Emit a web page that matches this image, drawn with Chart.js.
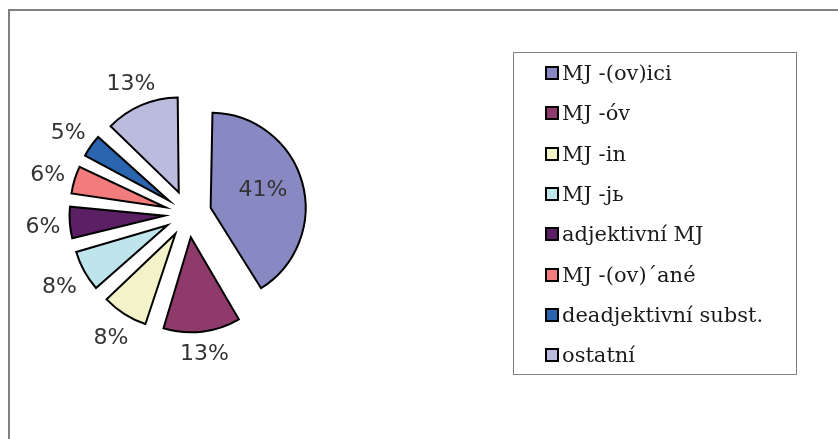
<!DOCTYPE html>
<html>
<head>
<meta charset="utf-8">
<script src="https://cdn.jsdelivr.net/npm/chart.js@4/dist/chart.umd.min.js"></script>
<style>
  html, body { margin: 0; padding: 0; background: #fff; overflow: hidden; }
  body { width: 838px; height: 439px; position: relative; }
  #frame {
    position: absolute; left: 8px; top: 9px; width: 900px; height: 500px;
    border-top: 2px solid #808080; border-left: 2px solid #808080;
  }
  #chart { position: absolute; left: 0; top: 0; }
  .legend {
    position: absolute; left: 513px; top: 52px; width: 284px; height: 323px;
    border: 1px solid #808080; box-sizing: border-box;
    font-family: 'DejaVu Serif', serif; font-size: 21px; color: #1a1a1a;
  }
  .legend-item { position: absolute; left: 31px; height: 24px; line-height: 24px; white-space: nowrap; }
  .legend-box {
    display: inline-block; width: 10px; height: 10px; border: 2px solid #000;
    vertical-align: 0px; margin-right: 3px;
  }
</style>
</head>
<body>
<div id="frame"></div>
<canvas id="chart" width="838" height="439"></canvas>
<div class="legend" id="legend"></div>
<script>
const categories = [
  'MJ -(ov)ici',
  'MJ -óv',
  'MJ -in',
  'MJ -jь',
  'adjektivní MJ',
  'MJ -(ov)´ané',
  'deadjektivní subst.',
  'ostatní'
];
const shares = [41.4, 13.4, 8.4, 7.6, 6.1, 5.5, 4.7, 12.9];
const colors = ['#8888c3', '#8e3a6a', '#f3f3c9', '#bee5ec', '#5b2063', '#f27c7c', '#2b65b0', '#bbbbdd'];

const legend = document.getElementById('legend');
categories.forEach((name, i) => {
  const item = document.createElement('div');
  item.classList.add('legend-item');
  item.style.top = (8 + i * 40.3) + 'px';
  const box = document.createElement('span');
  box.classList.add('legend-box');
  box.style.background = colors[i];
  item.append(box);
  item.append(document.createTextNode(name));
  legend.append(item);
});

// chart.js also grows the radius of an offset arc; keep all slices the same size
const baseDraw = Chart.ArcElement.prototype.draw;
Chart.ArcElement.prototype.draw = function (ctx) {
  const off = (this.options.offset || 0) / 4;
  const fix = 1 - Math.sin(Math.min(Math.PI, this.circumference || 0));
  const r = this.outerRadius;
  this.outerRadius = r - off * fix;
  baseDraw.call(this, ctx);
  this.outerRadius = r;
};

// percent labels, big slices inside, small ones outside
const pieLabels = {
  id: 'pieLabels',
  afterDatasetsDraw(chart) {
    const ctx = chart.ctx;
    const meta = chart.getDatasetMeta(0);
    const total = shares.reduce((a, b) => a + b, 0);
    ctx.save();
    ctx.font = '22px "DejaVu Sans"';
    ctx.fillStyle = '#333';
    ctx.textAlign = 'center';
    ctx.textBaseline = 'middle';
    meta.data.forEach((arc, i) => {
      const text = Math.round(shares[i] / total * 100) + '%';
      const mid = (arc.startAngle + arc.endAngle) / 2;
      const dx = Math.cos(mid), dy = Math.sin(mid);
      const off = arc.options.offset / 4; // chart.js moves arcs by offset/4
      let dist, shiftY;
      if (shares[i] >= 20) {
        dist = off + arc.outerRadius * 0.57;
        shiftY = -3;
      } else {
        const w = ctx.measureText(text).width;
        const half = Math.abs(dx) * w / 2 + Math.abs(dy) * 8;
        dist = off + arc.outerRadius + 9 + half;
        shiftY = 3;
      }
      ctx.fillText(text, arc.x + dx * dist, arc.y + dy * dist + shiftY);
    });
    ctx.restore();
  }
};

new Chart(document.getElementById('chart'), {
  type: 'pie',
  data: {
    labels: categories,
    datasets: [{
      data: shares,
      backgroundColor: colors,
      borderColor: '#000',
      borderWidth: 2,
      borderJoinStyle: 'miter',
      offset: 94,
      radius: 95
    }]
  },
  options: {
    responsive: false,
    animation: false,
    layout: { padding: { left: 0, top: 0, right: 462, bottom: 11 } },
    plugins: {
      legend: { display: false },
      tooltip: { enabled: false }
    }
  },
  plugins: [pieLabels]
});
</script>
</body>
</html>
